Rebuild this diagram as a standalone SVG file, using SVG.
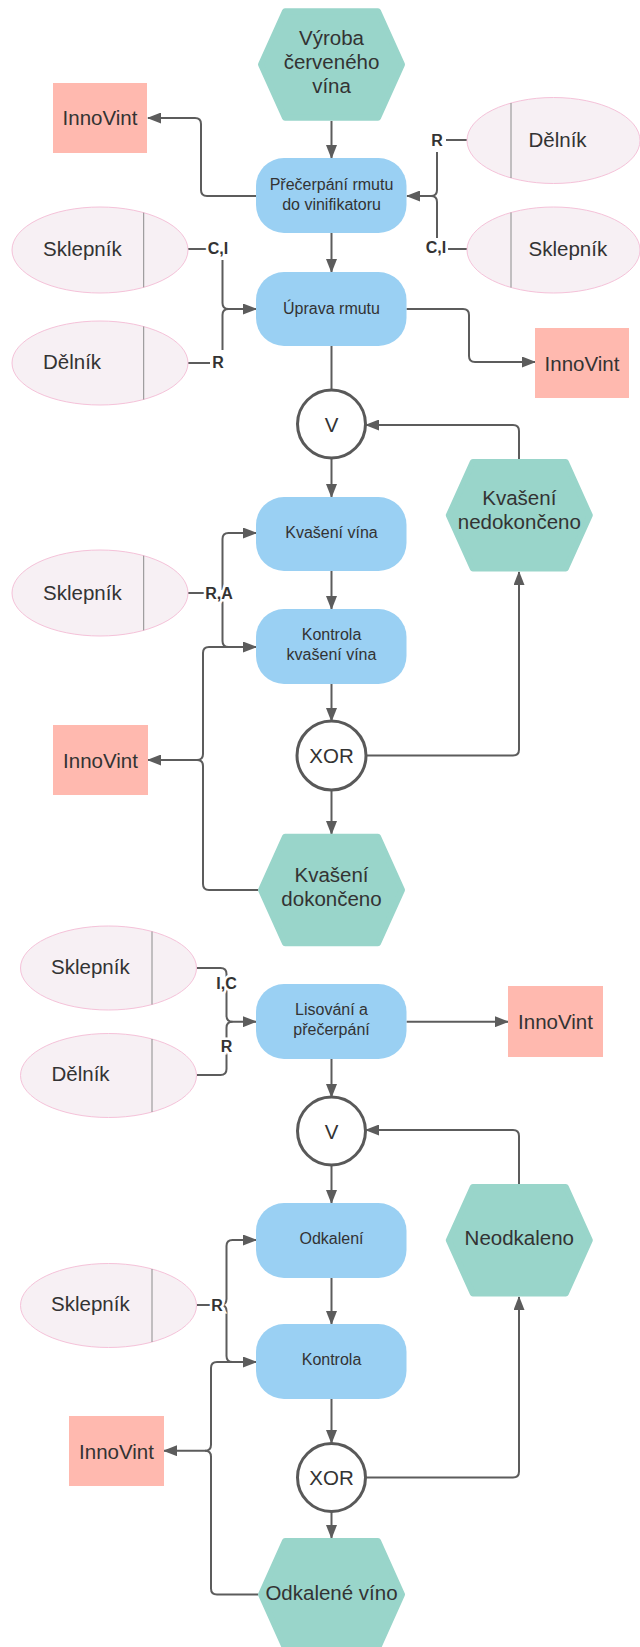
<svg xmlns="http://www.w3.org/2000/svg" width="640" height="1647" viewBox="0 0 640 1647">
  <defs>
    <style>
      .hex { fill: #99D5CA; stroke: #99D5CA; stroke-width: 6; stroke-linejoin: round; }
      .proc { fill: #9AD0F3; }
      .sys { fill: #FFB9AF; }
      .role { fill: #F7F0F4; stroke: #F5C2D9; stroke-width: 1; }
      .div { stroke: #8C8C8C; stroke-width: 1; }
      .gate { fill: #FFFFFF; stroke: #595959; stroke-width: 3; }
      .t { font-family: "Liberation Sans", Arial, sans-serif; fill: #333333; dominant-baseline: central; }
      .big { font-size: 20.5px; text-anchor: middle; }
      .lft { font-size: 20.5px; text-anchor: start; }
      .sm { font-size: 16px; text-anchor: middle; }
      .lbl { font-family: "Liberation Sans", Arial, sans-serif; font-size: 16px; font-weight: bold; fill: #333333; text-anchor: middle; dominant-baseline: central; stroke: #FFFFFF; stroke-width: 5; paint-order: stroke; }
      .ln { fill: none; stroke: #5C5C5C; stroke-width: 2; }
      .ar { marker-end: url(#ah); }
    </style>
    <marker id="ah" viewBox="0 0 14 11" refX="13" refY="5.5" markerWidth="14" markerHeight="11" markerUnits="userSpaceOnUse" orient="auto">
      <path d="M0,0 L14,5.5 L0,11 z" fill="#5C5C5C"/>
    </marker>
  </defs>

  <!-- connectors -->
  <g id="connectors">
    <path class="ln ar" d="M331.5,121 V158"/>
    <path class="ln ar" d="M256,196 H207 Q201,196 201,190 V124 Q201,118 195,118 H148"/>
    <path class="ln ar" d="M331.5,233 V272"/>
    <!-- right bracket into Přečerpání -->
    <path class="ln" d="M467,140 H446"/>
    <path class="ln" d="M437,152 V190 Q437,196 431,196"/>
    <path class="ln" d="M437,238 V202 Q437,196 431,196"/>
    <path class="ln ar" d="M431,196 H407"/>
    <path class="ln" d="M467,249 H448"/>
    <!-- left bracket into Úprava rmutu -->
    <path class="ln" d="M188,249 H207"/>
    <path class="ln ar" d="M222.5,260 V303 Q222.5,309 228.5,309 H256"/>
    <path class="ln" d="M222.5,350 V315 Q222.5,309 228.5,309"/>
    <path class="ln" d="M188,363 H210"/>
    <path class="ln ar" d="M406.5,309 H463 Q469,309 469,315 V356 Q469,362 475,362 H535"/>
    <path class="ln" d="M331.5,346 V390"/>
    <path class="ln ar" d="M331.5,458 V497"/>
    <path class="ln ar" d="M519,459 V431 Q519,425 513,425 H366"/>
    <!-- Sklepník R,A -->
    <path class="ln" d="M188,593 H206"/>
    <path class="ln ar" d="M222.5,590 V539 Q222.5,533 228.5,533 H256"/>
    <path class="ln ar" d="M222.5,596 V641 Q222.5,647 228.5,647 H256"/>
    <path class="ln ar" d="M331.5,571 V609"/>
    <path class="ln ar" d="M331.5,684 V721"/>
    <path class="ln ar" d="M366,755.5 H513 Q519,755.5 519,749.5 V572"/>
    <path class="ln ar" d="M331.5,790 V834"/>
    <path class="ln ar" d="M240,647 H209 Q203,647 203,653 V754 Q203,760 197,760 H148"/>
    <path class="ln" d="M258,890 H209 Q203,890 203,884 V766 Q203,760 197,760"/>
    <!-- inputs into Lisování -->
    <path class="ln ar" d="M196.7,968 H220.5 Q226.5,968 226.5,974 V1015.7 Q226.5,1021.7 232.5,1021.7 H256"/>
    <path class="ln" d="M196.7,1075 H220.5 Q226.5,1075 226.5,1069 V1027.7 Q226.5,1021.7 232.5,1021.7"/>
    <path class="ln ar" d="M406.5,1021.7 H508"/>
    <path class="ln ar" d="M331.5,1059 V1097"/>
    <path class="ln ar" d="M331.5,1165 V1203"/>
    <path class="ln ar" d="M519,1184 V1136 Q519,1130 513,1130 H366"/>
    <!-- Sklepník R into Odkalení / Kontrola -->
    <path class="ln" d="M196.7,1305 H220.5"/>
    <path class="ln ar" d="M220.5,1305 Q226.5,1305 226.5,1299 V1246 Q226.5,1240 232.5,1240 H256"/>
    <path class="ln ar" d="M220.5,1305 Q226.5,1305 226.5,1311 V1356 Q226.5,1362 232.5,1362 H256"/>
    <path class="ln ar" d="M331.5,1278 V1324"/>
    <path class="ln ar" d="M331.5,1399 V1443"/>
    <path class="ln ar" d="M366,1477.5 H513 Q519,1477.5 519,1471.5 V1297"/>
    <path class="ln ar" d="M331.5,1512 V1538"/>
    <path class="ln ar" d="M240,1362 H217 Q211,1362 211,1368 V1444.7 Q211,1450.7 205,1450.7 H164"/>
    <path class="ln" d="M258,1594.6 H217 Q211,1594.6 211,1588.6 V1456.7 Q211,1450.7 205,1450.7"/>
    <!-- connector labels -->
    <text class="lbl" x="437" y="140">R</text>
    <text class="lbl" x="436" y="247">C,I</text>
    <text class="lbl" x="218" y="248">C,I</text>
    <text class="lbl" x="218" y="362">R</text>
    <text class="lbl" x="219" y="593">R,A</text>
    <text class="lbl" x="226.5" y="983">I,C</text>
    <text class="lbl" x="226.5" y="1046">R</text>
    <text class="lbl" x="217" y="1305">R</text>
  </g>

  <!-- events -->
  <g id="ev-start">
    <polygon class="hex" points="285,11.2 378,11.2 402,64.5 378,117.8 285,117.8 261,64.5"/>
    <text class="t big" x="331.5" y="37">Výroba</text>
    <text class="t big" x="331.5" y="61">červeného</text>
    <text class="t big" x="331.5" y="85">vína</text>
  </g>
  <g id="ev-nedokonceno">
    <polygon class="hex" points="472.8,462 565.8,462 589.8,515.3 565.8,568.6 472.8,568.6 448.8,515.3"/>
    <text class="t big" x="519.3" y="497">Kvašení</text>
    <text class="t big" x="519.3" y="521">nedokončeno</text>
  </g>
  <g id="ev-dokonceno">
    <polygon class="hex" points="285,836.7 378,836.7 402,890 378,943.3 285,943.3 261,890"/>
    <text class="t big" x="331.5" y="874">Kvašení</text>
    <text class="t big" x="331.5" y="898">dokončeno</text>
  </g>
  <g id="ev-neodkaleno">
    <polygon class="hex" points="472.8,1187 565.8,1187 589.8,1240.3 565.8,1293.6 472.8,1293.6 448.8,1240.3"/>
    <text class="t big" x="519.3" y="1237">Neodkaleno</text>
  </g>
  <g id="ev-odkalene">
    <polygon class="hex" points="285,1541 378,1541 402,1594.6 378,1648 285,1648 261,1594.6"/>
    <text class="t big" x="331.5" y="1592">Odkalené víno</text>
  </g>

  <!-- functions -->
  <g id="fn-precerpani">
    <rect class="proc" x="256" y="158" width="150.5" height="75" rx="28" ry="28"/>
    <text class="t sm" x="331.5" y="184">Přečerpání rmutu</text>
    <text class="t sm" x="331.5" y="204">do vinifikatoru</text>
  </g>
  <g id="fn-uprava">
    <rect class="proc" x="256" y="272" width="150.5" height="74" rx="28" ry="28"/>
    <text class="t sm" x="331.5" y="308">Úprava rmutu</text>
  </g>
  <g id="fn-kvaseni">
    <rect class="proc" x="256" y="497" width="150.5" height="74" rx="28" ry="28"/>
    <text class="t sm" x="331.5" y="532">Kvašení vína</text>
  </g>
  <g id="fn-kontrola-kvaseni">
    <rect class="proc" x="256" y="609" width="150.5" height="75" rx="28" ry="28"/>
    <text class="t sm" x="331.5" y="634">Kontrola</text>
    <text class="t sm" x="331.5" y="654">kvašení vína</text>
  </g>
  <g id="fn-lisovani">
    <rect class="proc" x="256" y="984" width="150.5" height="75" rx="28" ry="28"/>
    <text class="t sm" x="331.5" y="1009">Lisování a</text>
    <text class="t sm" x="331.5" y="1029">přečerpání</text>
  </g>
  <g id="fn-odkaleni">
    <rect class="proc" x="256" y="1203" width="150.5" height="75" rx="28" ry="28"/>
    <text class="t sm" x="331.5" y="1238">Odkalení</text>
  </g>
  <g id="fn-kontrola">
    <rect class="proc" x="256" y="1324" width="150.5" height="75" rx="28" ry="28"/>
    <text class="t sm" x="331.5" y="1359">Kontrola</text>
  </g>

  <!-- information systems -->
  <g id="sys-1">
    <rect class="sys" x="53" y="83" width="94" height="70"/>
    <text class="t big" x="100" y="117">InnoVint</text>
  </g>
  <g id="sys-2">
    <rect class="sys" x="535" y="328" width="94" height="70"/>
    <text class="t big" x="582" y="363">InnoVint</text>
  </g>
  <g id="sys-3">
    <rect class="sys" x="53" y="725" width="95" height="70"/>
    <text class="t big" x="100.5" y="760">InnoVint</text>
  </g>
  <g id="sys-4">
    <rect class="sys" x="508" y="986" width="95" height="71"/>
    <text class="t big" x="555.5" y="1021">InnoVint</text>
  </g>
  <g id="sys-5">
    <rect class="sys" x="69" y="1416" width="95" height="70"/>
    <text class="t big" x="116.5" y="1451">InnoVint</text>
  </g>

  <!-- roles -->
  <g id="role-delnik-1">
    <ellipse class="role" cx="553.5" cy="140.5" rx="86.5" ry="43"/>
    <line class="div" x1="511" y1="103" x2="511" y2="178"/>
    <text class="t lft" x="528.5" y="139.5">Dělník</text>
  </g>
  <g id="role-sklepnik-1">
    <ellipse class="role" cx="553.5" cy="250" rx="86.5" ry="43"/>
    <line class="div" x1="511" y1="212.5" x2="511" y2="287.5"/>
    <text class="t lft" x="528.5" y="248.5">Sklepník</text>
  </g>
  <g id="role-sklepnik-2">
    <ellipse class="role" cx="100" cy="250" rx="88" ry="43"/>
    <line class="div" x1="143.7" y1="212.7" x2="143.7" y2="287.3"/>
    <text class="t lft" x="43" y="248.5">Sklepník</text>
  </g>
  <g id="role-delnik-2">
    <ellipse class="role" cx="100" cy="363" rx="88" ry="42"/>
    <line class="div" x1="143.7" y1="326.5" x2="143.7" y2="399.5"/>
    <text class="t lft" x="43" y="361.5">Dělník</text>
  </g>
  <g id="role-sklepnik-3">
    <ellipse class="role" cx="100" cy="593" rx="88" ry="43"/>
    <line class="div" x1="143.7" y1="555.7" x2="143.7" y2="630.3"/>
    <text class="t lft" x="43" y="592">Sklepník</text>
  </g>
  <g id="role-sklepnik-4">
    <ellipse class="role" cx="108.5" cy="968" rx="88" ry="42"/>
    <line class="div" x1="152" y1="931.5" x2="152" y2="1004.5"/>
    <text class="t lft" x="51" y="966">Sklepník</text>
  </g>
  <g id="role-delnik-3">
    <ellipse class="role" cx="108.5" cy="1075.5" rx="88" ry="42"/>
    <line class="div" x1="152" y1="1039" x2="152" y2="1112"/>
    <text class="t lft" x="51.5" y="1073.5">Dělník</text>
  </g>
  <g id="role-sklepnik-5">
    <ellipse class="role" cx="108.5" cy="1305.5" rx="88" ry="42"/>
    <line class="div" x1="152" y1="1269" x2="152" y2="1342"/>
    <text class="t lft" x="51" y="1303.5">Sklepník</text>
  </g>

  <!-- connectors (logical operators) -->
  <g id="op-or-1">
    <circle class="gate" cx="331.5" cy="424" r="34"/>
    <text class="t big" x="331.5" y="424">V</text>
  </g>
  <g id="op-xor-1">
    <circle class="gate" cx="331.5" cy="755.5" r="34.5"/>
    <text class="t big" x="331.5" y="755.5">XOR</text>
  </g>
  <g id="op-or-2">
    <circle class="gate" cx="331.5" cy="1131" r="34"/>
    <text class="t big" x="331.5" y="1131">V</text>
  </g>
  <g id="op-xor-2">
    <circle class="gate" cx="331.5" cy="1477.5" r="34"/>
    <text class="t big" x="331.5" y="1477.5">XOR</text>
  </g>
</svg>
